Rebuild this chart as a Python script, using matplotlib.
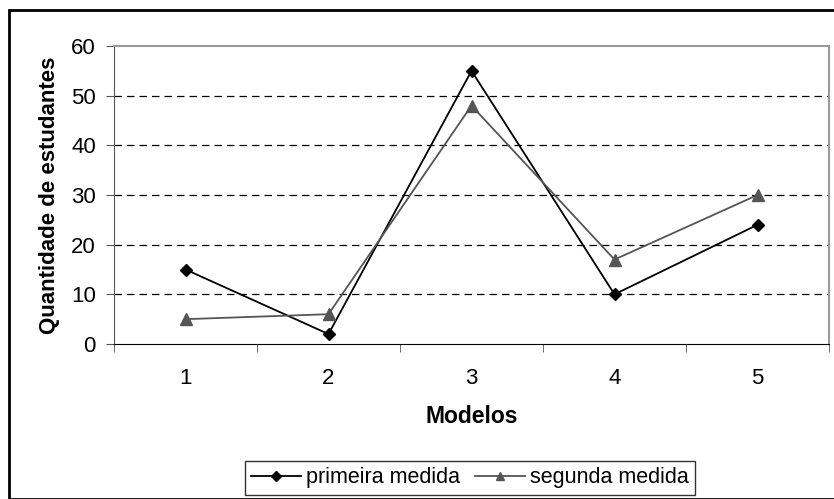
import matplotlib
matplotlib.use("Agg")
import matplotlib.pyplot as plt
from matplotlib.patches import Rectangle

modelos = [1, 2, 3, 4, 5]
primeira = [15, 2, 55, 10, 24]
segunda = [5, 6, 48, 17, 30]
yticks = [0, 10, 20, 30, 40, 50, 60]

plt.rcParams["font.family"] = ["Liberation Sans", "DejaVu Sans"]

W, H = 834, 499
fig = plt.figure(figsize=(W / 100, H / 100), dpi=100)
ax = fig.add_axes([114 / W, 1 - 344 / H, (829 - 114) / W, (344 - 46) / H])

ax.plot(modelos, primeira, color="black", lw=1.3, marker="D", ms=6.5,
        label="primeira medida", zorder=3)
ax.plot(modelos, segunda, color="#555555", lw=1.3, marker="^", ms=8,
        label="segunda medida", zorder=3)

ax.set_xlim(0.5, 5.5)
ax.set_ylim(0, 60)
ax.set_yticks(yticks)
ax.set_xticks(modelos)
ax.set_xticks([0.5, 1.5, 2.5, 3.5, 4.5, 5.5], minor=True)
ax.tick_params(axis="x", which="major", length=0, labelsize=16, pad=17)
ax.tick_params(axis="x", which="minor", length=6, direction="out", color="#555555")
ax.tick_params(axis="y", length=6, direction="out", labelsize=16, color="#555555", pad=7)
for y in yticks[1:-1]:
    ax.axhline(y, color="black", lw=0.9, ls=(0, (6, 4)), zorder=1)

for s in ("top", "right"):
    ax.spines[s].set_color("#999999")
    ax.spines[s].set_linewidth(1.5)
ax.spines["left"].set_color("#555555")
ax.spines["bottom"].set_color("black")

ax.set_xlabel("Modelos", fontsize=16.5, fontweight="bold", labelpad=12)
ax.set_ylabel("Quantidade de estudantes", fontsize=16, fontweight="bold", labelpad=8)

leg = fig.legend(loc="center", bbox_to_anchor=(470 / W, 1 - 478 / H), ncol=2,
                 fontsize=15.5, frameon=True, fancybox=False, edgecolor="black",
                 handlelength=2.3, handletextpad=0.25, columnspacing=0.7,
                 borderpad=0.3, borderaxespad=0, markerscale=0.75)
leg.get_frame().set_linewidth(1.0)

fig.patches.append(Rectangle((9 / W, 0), 1, 1 - 10 / H, transform=fig.transFigure,
                             fill=False, edgecolor="black", lw=2))

fig.savefig("out.png", dpi=100)
